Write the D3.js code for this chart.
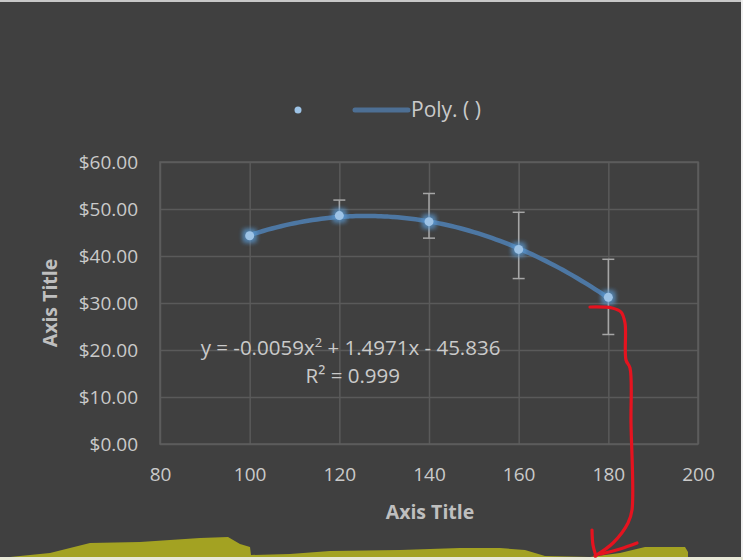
<!DOCTYPE html>
<html>
<head>
<meta charset="utf-8">
<script src="https://cdn.jsdelivr.net/npm/d3@7"></script>
<style>
  html, body { margin: 0; padding: 0; background: #ffffff; }
  svg { display: block; }
  text { font-family: "Open Sans", "Noto Sans", sans-serif; }
</style>
</head>
<body>
<div id="chart"></div>
<script>
// values
var xValues = [100, 120, 140, 160, 180];
var yValues = [44.3, 48.6, 47.3, 41.4, 31.2];
var errPlus = [0, 3.3, 6.0, 7.9, 8.1];
var errMinus = [0, 0.5, 3.5, 6.2, 7.9];
var xTicks = [80, 100, 120, 140, 160, 180, 200];
var yTicks = [0, 10, 20, 30, 40, 50, 60];
var legendLabel = "Poly. ( )";
var equationText = ["y = -0.0059x", "2", " + 1.4971x - 45.836"];
var r2Text = "R\u00b2 = 0.999";
var axisTitle = "Axis Title";

var w = 743, h = 560
    , marginLeft = 160, marginRight = 45, marginTop = 162, marginBottom = 116
    , contentsWidth = w - marginLeft - marginRight, contentsHeight = h - marginTop - marginBottom;

var svg = d3.select("div#chart").append("svg")
    .attr("width", w)
    .attr("height", h);

var defs = svg.append("defs");
var glow = defs.append("filter").attr("id", "glow")
    .attr("x", "-150%").attr("y", "-150%").attr("width", "400%").attr("height", "400%");
glow.append("feGaussianBlur").attr("in", "SourceGraphic").attr("stdDeviation", 2.5).attr("result", "b");
var merge = glow.append("feMerge");
merge.append("feMergeNode").attr("in", "b");
merge.append("feMergeNode").attr("in", "b");

// background
svg.append("rect").attr("width", w).attr("height", h).attr("fill", "#404040");
svg.append("rect").attr("width", w).attr("height", 2).attr("fill", "#c8c8c8");
svg.append("rect").attr("x", w - 2).attr("width", 2).attr("height", h).attr("fill", "#f0f0f0");

var chartG = svg.append("g")
    .attr("transform", "translate(" + marginLeft + "," + marginTop + ")");

var xScale = d3.scaleLinear().domain([80, 200]).range([0, contentsWidth]);
var yScale = d3.scaleLinear().domain([0, 60]).range([contentsHeight, 0]);

var xAxis = d3.axisBottom(xScale).tickValues(xTicks)
    .tickSizeInner(-contentsHeight).tickSizeOuter(0).tickPadding(24)
    .tickFormat(d3.format("d"));
var yAxis = d3.axisLeft(yScale).tickValues(yTicks)
    .tickSizeInner(-contentsWidth).tickSizeOuter(0).tickPadding(22)
    .tickFormat(function(d) { return "$" + d3.format(".2f")(d); });

var gx = chartG.append("g")
    .attr("transform", "translate(0," + contentsHeight + ")")
    .call(xAxis);
var gy = chartG.append("g").call(yAxis);

[gx, gy].forEach(function(g) {
  g.select(".domain").remove();
  g.selectAll(".tick line").attr("stroke", "#5a5a5a").attr("stroke-width", 1.5);
  g.selectAll(".tick text")
      .attr("fill", "#cacaca")
      .style("font-size", "19px")
      .style("font-family", "'Open Sans', sans-serif");
});
chartG.append("rect")
    .attr("width", contentsWidth).attr("height", contentsHeight)
    .attr("fill", "none").attr("stroke", "#5e5e5e").attr("stroke-width", 1.5);

// polynomial trendline (least squares, order 2) from the data
function polyFit(xs, ys) {
  var s = [0, 0, 0, 0, 0], t = [0, 0, 0];
  xs.forEach(function(x, i) {
    for (var k = 0; k < 5; k++) s[k] += Math.pow(x, k);
    for (var k2 = 0; k2 < 3; k2++) t[k2] += ys[i] * Math.pow(x, k2);
  });
  var A = [[s[0], s[1], s[2], t[0]], [s[1], s[2], s[3], t[1]], [s[2], s[3], s[4], t[2]]];
  for (var i = 0; i < 3; i++) {
    for (var j = i + 1; j < 3; j++) {
      var f = A[j][i] / A[i][i];
      for (var c = i; c < 4; c++) A[j][c] -= f * A[i][c];
    }
  }
  var r = [0, 0, 0];
  for (var i2 = 2; i2 >= 0; i2--) {
    var v = A[i2][3];
    for (var c2 = i2 + 1; c2 < 3; c2++) v -= A[i2][c2] * r[c2];
    r[i2] = v / A[i2][i2];
  }
  return r;
}
var coef = polyFit(xValues, yValues);
var trendX = d3.range(xValues[0], xValues[xValues.length - 1] + 0.5, 1);
var line = d3.line()
    .x(function(d) { return xScale(d); })
    .y(function(d) { return yScale(coef[0] + coef[1] * d + coef[2] * d * d); })
    .curve(d3.curveMonotoneX);

// error bars
var errG = chartG.append("g");
xValues.forEach(function(x, i) {
  if (errPlus[i] === 0 && errMinus[i] === 0) return;
  var cx = xScale(x), top = yScale(yValues[i] + errPlus[i]), bot = yScale(yValues[i] - errMinus[i]);
  errG.append("line").attr("x1", cx).attr("x2", cx).attr("y1", top).attr("y2", bot);
  errG.append("line").attr("x1", cx - 6).attr("x2", cx + 6).attr("y1", top).attr("y2", top);
  errG.append("line").attr("x1", cx - 6).attr("x2", cx + 6).attr("y1", bot).attr("y2", bot);
});
errG.selectAll("line").attr("stroke", "#a6a6a6").attr("stroke-width", 1.5);

chartG.append("path")
    .datum(trendX)
    .attr("d", line)
    .attr("fill", "none")
    .attr("stroke", "#4d77a3")
    .attr("stroke-width", 4.5)
    .attr("stroke-linecap", "round");

// markers
var pts = chartG.append("g").selectAll("g").data(xValues).enter().append("g")
    .attr("transform", function(d, i) { return "translate(" + xScale(d) + "," + yScale(yValues[i]) + ")"; });
pts.append("rect").attr("x", -6).attr("y", -6).attr("width", 12).attr("height", 12)
    .attr("fill", "#5b9bd5").attr("opacity", 0.7).attr("filter", "url(#glow)");
pts.append("circle").attr("r", 4.5).attr("fill", "#9dc3e6");

// equation
var eq = chartG.append("text")
    .attr("x", xScale(122.5)).attr("y", yScale(19))
    .attr("text-anchor", "middle")
    .attr("fill", "#cacaca")
    .style("font-size", "20.5px");
eq.append("tspan").text(equationText[0]);
eq.append("tspan").attr("dy", -8).style("font-size", "13px").text(equationText[1]);
eq.append("tspan").attr("dy", 8).text(equationText[2]);
chartG.append("text")
    .attr("x", xScale(123)).attr("y", yScale(13))
    .attr("text-anchor", "middle")
    .attr("fill", "#cacaca")
    .style("font-size", "20.5px")
    .text(r2Text);

// axis titles
svg.append("text")
    .attr("x", 430).attr("y", 519)
    .attr("text-anchor", "middle")
    .attr("fill", "#bfbfbf")
    .style("font-size", "19.5px").style("font-weight", "bold")
    .text(axisTitle);
svg.append("text")
    .attr("transform", "translate(57,303) rotate(-90)")
    .attr("text-anchor", "middle")
    .attr("fill", "#bfbfbf")
    .style("font-size", "19.5px").style("font-weight", "bold")
    .text(axisTitle);

// legend
var lg = svg.append("g");
lg.append("circle").attr("cx", 298).attr("cy", 110).attr("r", 3.5).attr("fill", "#9dc3e6");
lg.append("line").attr("x1", 355).attr("x2", 408).attr("y1", 110).attr("y2", 110)
    .attr("stroke", "#4d6f94").attr("stroke-width", 5).attr("stroke-linecap", "round");
lg.append("text").attr("x", 411).attr("y", 117)
    .attr("fill", "#cacaca").style("font-size", "21px").text(legendLabel);

// highlighter marks along the bottom edge
var hiPts = [[0, 558], [20, 556], [50, 553], [90, 543], [140, 542], [200, 538], [228, 537], [240, 544],
  [250, 547], [251, 555], [290, 554], [330, 551], [400, 550], [460, 548], [500, 548], [525, 550],
  [545, 556], [590, 557], [620, 553], [645, 547], [685, 547], [688, 552], [688, 558]];
svg.append("path")
    .attr("d", d3.line()(hiPts) + "Z")
    .attr("fill", "#a3a222");
svg.append("rect").attr("y", 557).attr("width", w).attr("height", 3).attr("fill", "#e8e8d8");

// red hand-drawn arrow
var arrow = d3.line().curve(d3.curveCatmullRom);
var redPaths = [
  [[590, 307], [612, 308], [621, 312], [625, 323], [626, 360], [630, 368], [631, 423], [632, 510], [628, 523], [613, 543], [595, 556]],
  [[592, 530], [593, 545], [596, 556]],
  [[637, 543], [620, 549], [601, 554]]
];
svg.selectAll("path.red").data(redPaths).enter().append("path")
    .attr("class", "red")
    .attr("d", function(d) { return arrow(d); })
    .attr("fill", "none")
    .attr("stroke", "#e5131f")
    .attr("stroke-width", 3.2)
    .attr("stroke-linecap", "round");
</script>
</body>
</html>
